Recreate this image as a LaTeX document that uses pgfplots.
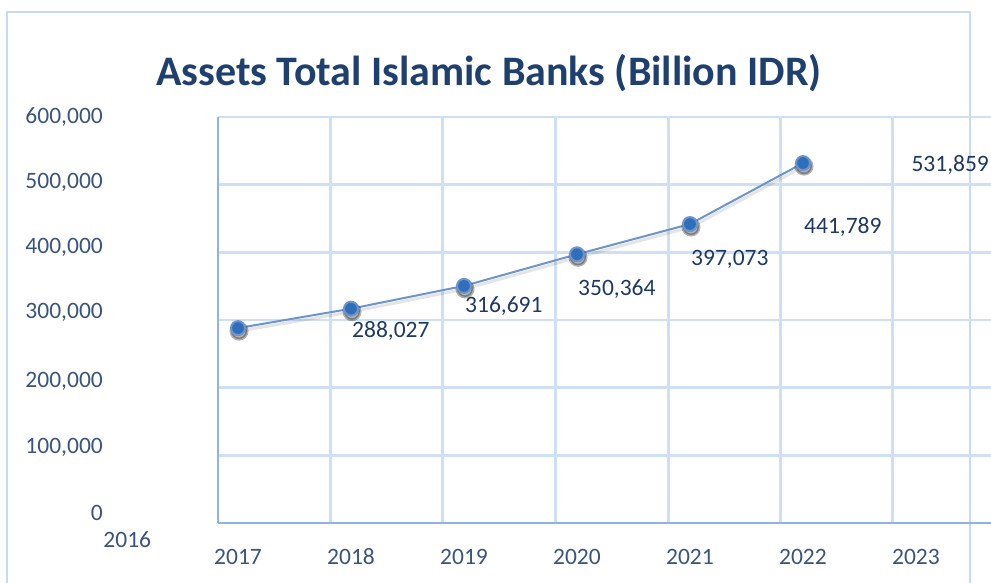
\documentclass[border=0pt]{standalone}
\usepackage{pgfplots}
\pgfplotsset{compat=1.18}
\usepackage{pgfplotstable}
\usepackage{fontspec}
\setmainfont{Carlito}
\definecolor{gridblue}{RGB}{208,224,244}
\definecolor{axisblue}{RGB}{142,180,227}
\definecolor{frameblue}{RGB}{200,218,240}
\definecolor{tickcol}{RGB}{58,84,124}
\definecolor{labcol}{RGB}{31,56,100}
\definecolor{titlecol}{RGB}{31,64,110}
\definecolor{markcol}{RGB}{47,110,186}
\definecolor{linecol}{RGB}{110,148,204}

\pgfplotstableread{
x y
2017 288027
2018 316691
2019 350364
2020 397073
2021 441789
2022 531859
}\datatable

\pgfplotstableread{
x y lab
2018 284000 288,027
2019 321000 316,691
2020 346000 350,364
2021 389000 397,073
2022 438000 441,789
2022.95 529600 531,859
}\labtable

\begin{document}
\begin{tikzpicture}
\draw[frameblue, line width=1.5pt] (7pt,0pt) -- (7pt,571pt) -- (970pt,571pt) -- (970pt,0pt);
\begin{axis}[
  at={(218pt,60pt)}, anchor=south west,
  scale only axis, width=773pt, height=406pt,
  xmin=2016.823, xmax=2023.664, ymin=0, ymax=600000,
  enlargelimits=false, clip=false,
  scaled y ticks=false, scaled x ticks=false,
  axis x line*=bottom, axis y line*=left,
  axis line style={axisblue, line width=2pt, -},
  major tick length=0pt,
  grid=major,
  major grid style={gridblue, line width=2.5pt},
  xtick={2017.82,2018.81,2019.81,2020.81,2021.80,2022.79},
  xticklabels={,,,,,},
  ytick={0,100000,200000,300000,400000,500000,600000},
  yticklabels={,,,,,,},
  extra x ticks={2017,2018,2019,2020,2021,2022,2023},
  extra x tick labels={2017,2018,2019,2020,2021,2022,2023},
  extra x tick style={grid=none, major tick length=0pt},
  extra y ticks={14800,112000,210000,311000,408000,504000,600000},
  extra y tick labels={0,{100,000},{200,000},{300,000},{400,000},{500,000},{600,000}},
  extra y tick style={grid=none, major tick length=0pt},
  tick label style={font=\fontsize{23.5}{28}\selectfont, text=tickcol, inner sep=0pt},
  xticklabel style={anchor=center, yshift=-34pt},
  yticklabel style={anchor=east, xshift=-115pt},
]
% shadow of line and marks
\addplot[black, opacity=0.10, line width=3pt, yshift=-3pt, xshift=1pt, mark=*, mark size=8pt,
  mark options={draw=none, fill=black, opacity=0.3}] table[x=x,y=y]{\datatable};
\addplot[linecol, line width=2pt, mark=*, mark size=7pt,
  mark options={draw=none, fill=markcol}] table[x=x,y=y]{\datatable};
\addplot[draw=none, mark=none, nodes near coords, point meta=explicit symbolic,
  nodes near coords style={anchor=west, inner sep=0pt, xshift=1pt, text=labcol,
    font=\fontsize{23.5}{28}\selectfont}]
  table[x=x,y=y,meta=lab]{\labtable};
\node[font=\fontsize{23.5}{28}\selectfont, text=tickcol, inner sep=0pt] at (axis cs:2016.02,-25150) {2016};
\end{axis}
\node[font=\fontsize{42}{50}\selectfont\bfseries, text=titlecol, anchor=base] at (489pt,497pt) {Assets Total Islamic Banks (Billion IDR)};
\pgfresetboundingbox
\path (0pt,0pt) rectangle (991pt,583pt);
\end{tikzpicture}
\end{document}
